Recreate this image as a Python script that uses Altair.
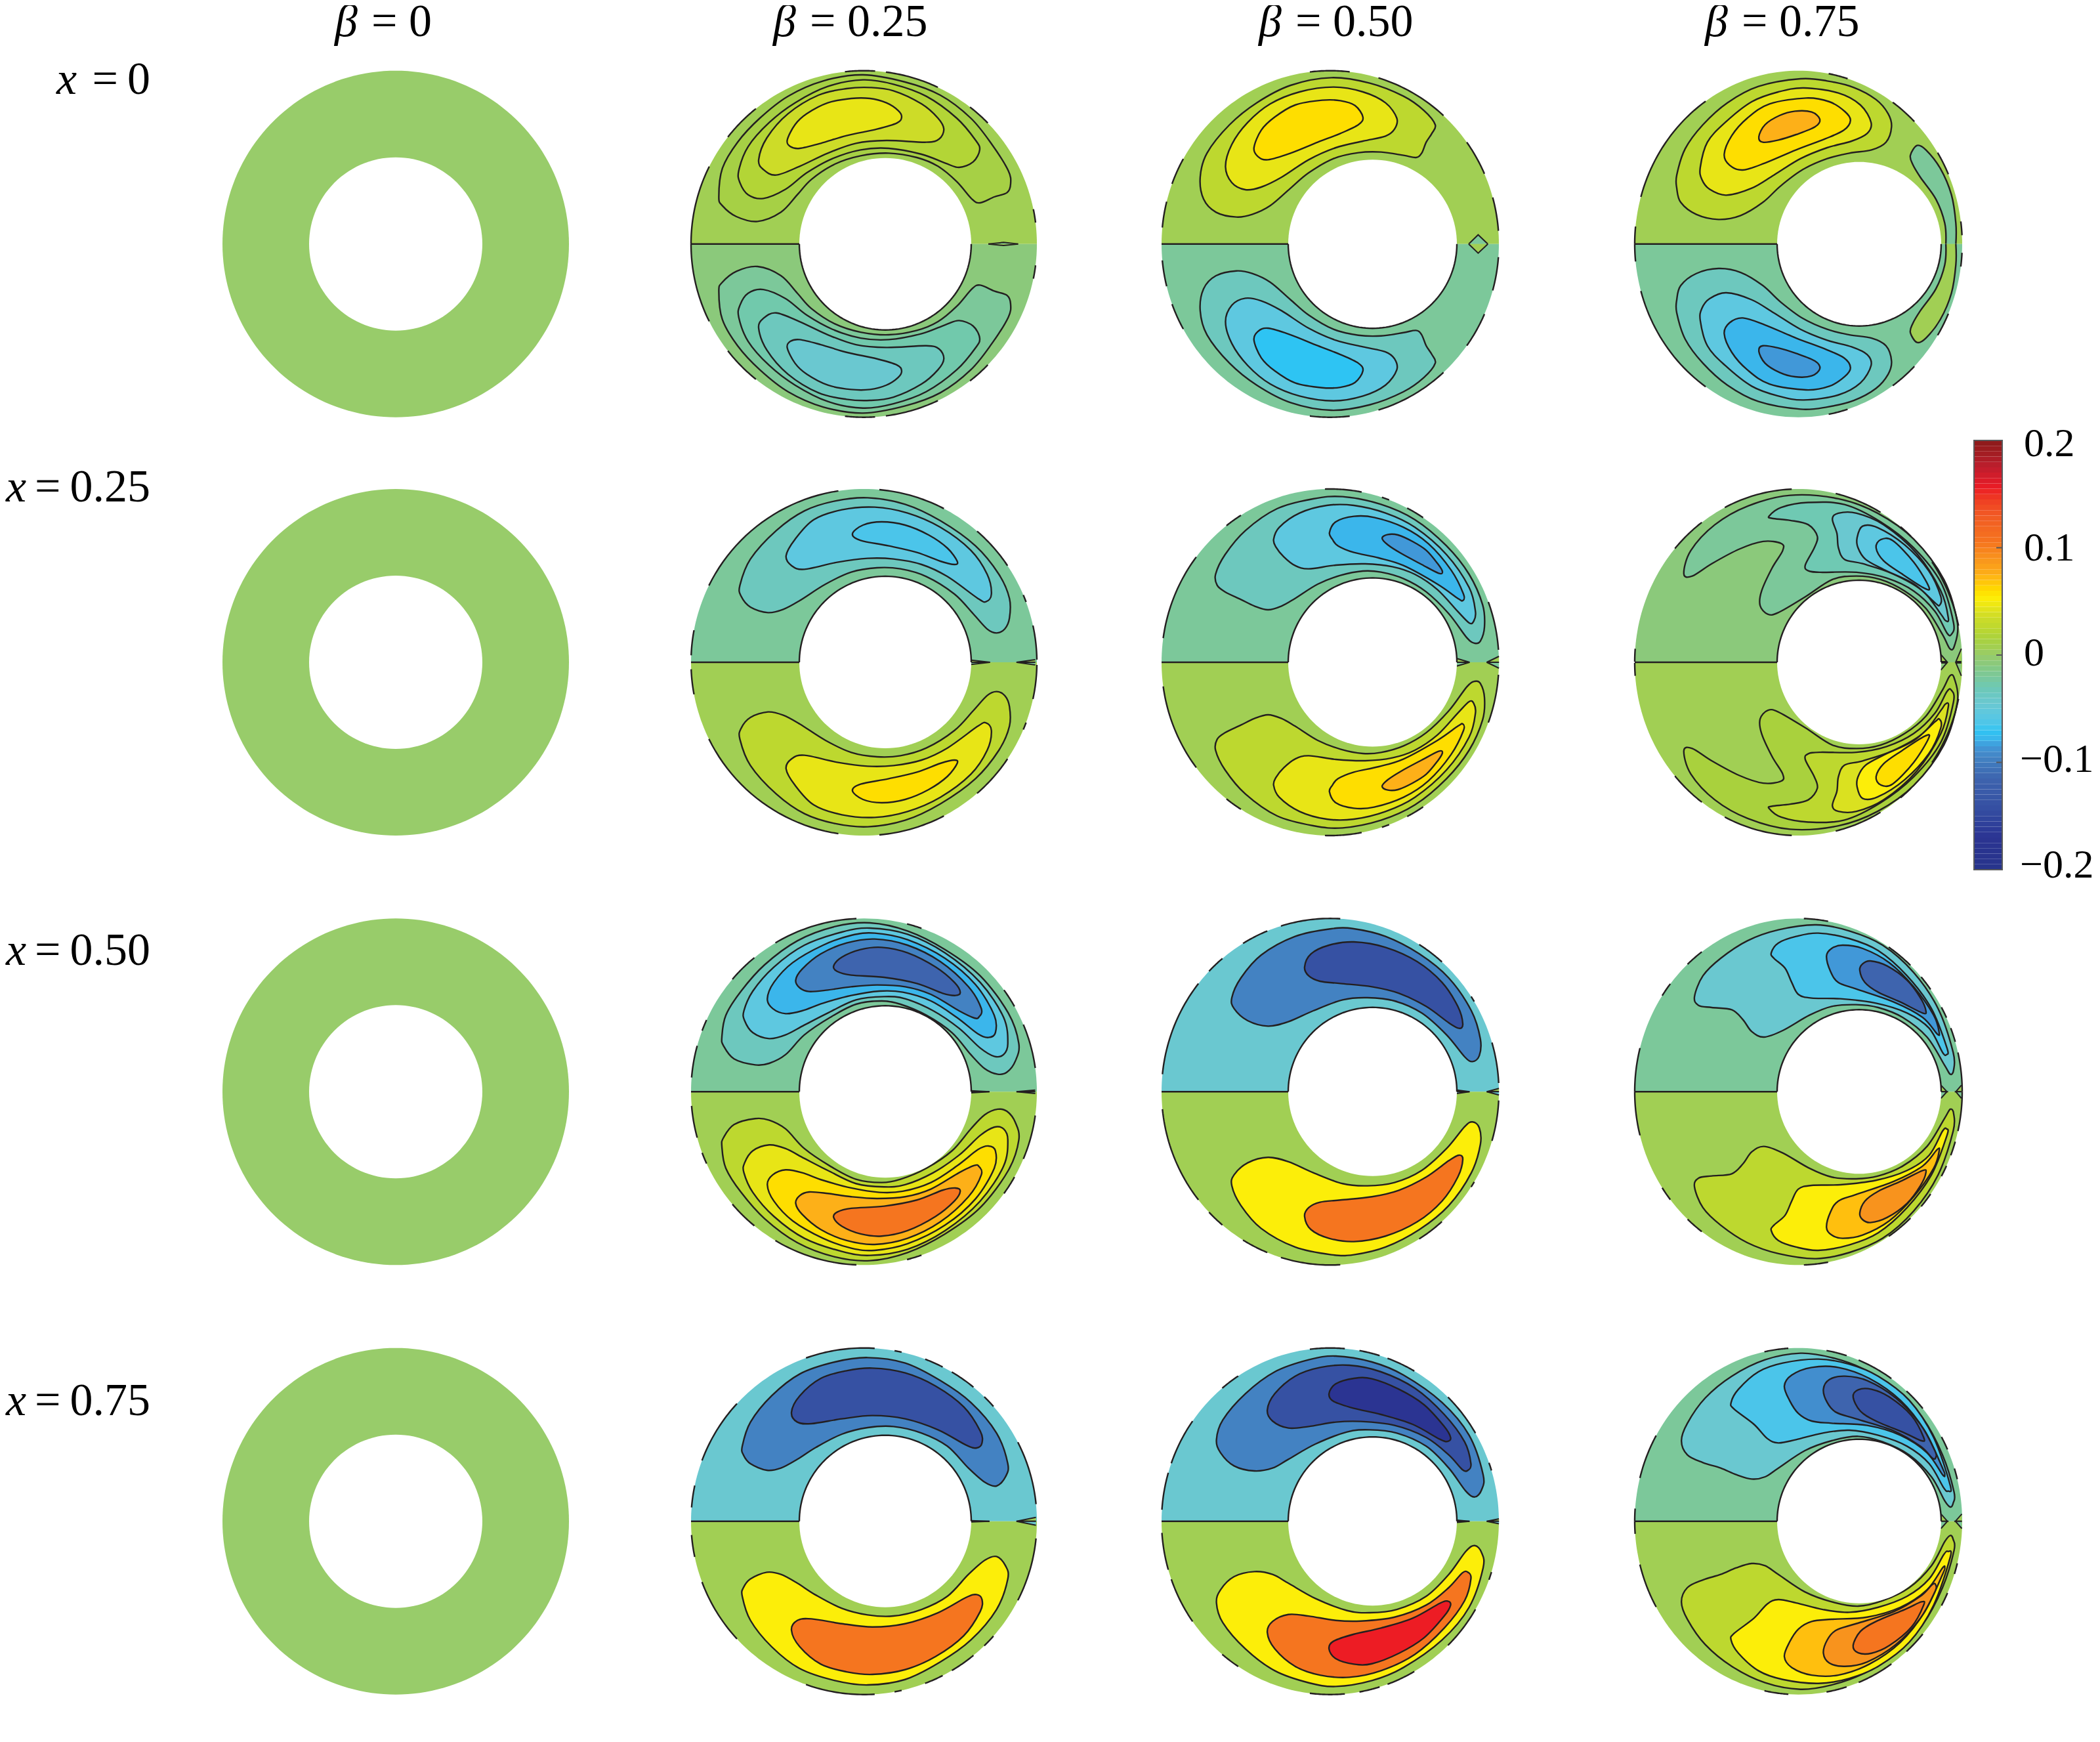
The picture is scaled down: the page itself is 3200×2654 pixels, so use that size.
import math
import altair as alt
import pandas as pd

alt.data_transformers.disable_max_rows()

# ---- colour bar: value -> colour
BAR_VALUES = [-0.2, -0.17, -0.14, -0.115, -0.096, -0.085, -0.078, -0.07, -0.065, -0.055, -0.045, -0.035, -0.02, -0.008,
              0, 0.006, 0.015, 0.025, 0.035, 0.045, 0.052, 0.06, 0.075, 0.09, 0.105, 0.13, 0.155, 0.175, 0.2]
BAR_COLORS = ["#27348B", "#2B3492", "#3651A3", "#3E64AE", "#4382C2", "#4198D8", "#3BB6EB", "#2EC4F3", "#4BC5EA", "#5EC8E0",
              "#6AC8D0", "#6DC8BE", "#7CC89A", "#8BC97B", "#98CC6A", "#A1CF54", "#A9D13D", "#BDD82F", "#CDDC28", "#E8E516",
              "#FCEE09", "#FEDE00", "#FDB018", "#F8931D", "#F5751F", "#F15A24", "#ED1C24", "#BE1E2D", "#8B1A1A"]
BAR_TICKS = [0.1, 0, -0.1]
BAR_LABELS = ["0.2", "0.1", "0", "\u22120.1", "\u22120.2"]
BAR_LABEL_AT = [0.197, 0.1, 0.002, -0.097, -0.196]
BAR_LABEL_LEFT = [3084, 3084, 3084, 3078, 3078]

BETA_TEXT = ["= 0", "= 0.25", "= 0.50", "= 0.75"]
BETA_LEFT = [510, 1178, 1918, 2598]
ROW_TEXT = ["=\u20090", "=\u20090.25", "=\u20090.50", "=\u20090.75"]
ROW_X_LEFT = [86, 9, 9, 9]
ROW_TEXT_Y = [122, 743, 1449, 2135]

# ---- geometry of the annuli
ROW_AXIS = [371.7, 1009, 1663.3, 2317.7]
ROW_CROP_Y = [100, 735, 1390, 2040]
# centre x, rx, ry, inner centre x, inner r, crop x, x factor
COL_GEOM = [(603, 264, 264, 603, 132, 0, 1),
            (1316.5, 263.5, 264, 1349, 131, 1040, 2.8),
            (2027, 257, 264, 2091.5, 128.5, 1760, 2.904),
            (2740.5, 249.5, 264, 2833, 125, 2480, 2.958)]

# ---- contours of the upper half: (upper value, mirrored lower value, points)
R1C2 = [
 (0.012, -0.02, [(155,600),(170,470),(235,350),(330,240),(450,140),(600,70),(770,42),(950,75),(1100,135),(1230,240),(1320,360),(1390,480),(1400,540),(1385,580),(1330,600),(1270,627),(1235,610),(1170,530),(1090,460),(1000,420),(880,400),(760,412),(650,450),(550,520),(490,590),(420,670),(320,712),(230,690),(170,640)]),
 (0.02, -0.027, [(240,480),(280,370),(370,260),(480,170),(620,95),(770,65),(900,85),(1040,140),(1170,240),(1250,340),(1268,385),(1240,440),(1180,465),(1120,445),(1020,405),(880,378),(760,385),(640,425),(530,490),(440,565),(345,607),(280,590),(245,535)]),
 (0.035, -0.035, [(325,430),(360,330),(450,220),(580,135),(700,105),(800,100),(900,115),(1020,175),(1090,240),(1115,290),(1095,335),(1040,350),(870,342),(740,355),(620,400),(500,460),(400,500),(345,475)]),
 (0.045, -0.045, [(447,340),(480,270),(530,220),(620,170),(720,150),(800,150),(870,170),(920,205),(935,235),(915,262),(830,290),(700,320),(590,355),(500,378),(460,370)]),
]
R1C3 = [
 (0.025, -0.035, [(200,510),(230,400),(330,270),(450,170),(600,90),(780,55),(950,80),(1100,140),(1190,205),(1240,270),(1225,310),(1200,350),(1180,400),(1155,420),(1100,410),(1000,395),(900,398),(790,425),(680,490),(600,560),(510,640),(430,680),(360,692),(270,670),(215,610)]),
 (0.045, -0.055, [(312,460),(340,360),(410,260),(510,175),(640,120),(790,98),(920,120),(1020,170),(1070,240),(1060,290),(1020,322),(920,345),(800,375),(680,430),(560,510),(470,555),(400,567),(340,535)]),
 (0.06, -0.07, [(438,375),(470,295),(530,235),(620,180),(740,158),(820,160),(885,182),(920,235),(900,270),(820,310),(720,350),(600,400),(500,430),(455,415)]),
]
R1C4 = [
 (0.025, -0.035, [(222,500),(260,380),(340,270),(450,170),(590,95),(780,60),(900,70),(1020,100),(1120,155),(1175,220),(1190,280),(1165,350),(1100,385),(1000,400),(900,425),(790,475),(690,550),(610,625),(510,685),(410,703),(310,680),(240,625),(222,560)]),
 (0.045, -0.055, [(328,465),(360,350),(440,260),(560,165),(680,120),(795,102),(950,125),(1050,180),(1098,260),(1080,310),(1010,345),(900,375),(780,425),(660,500),(560,560),(445,592),(370,565),(335,520)]),
 (0.06, -0.078, [(436,405),(470,320),(540,240),(640,175),(805,148),(910,165),(980,210),(1005,250),(975,295),(890,335),(760,385),(620,445),(520,477),(460,455)]),
 (0.075, -0.085, [(592,325),(620,270),(685,228),(755,208),(830,212),(867,245),(845,280),(760,315),(680,340),(610,350)]),
]
# a strip that runs into the axis: drawn as an open curve, so the axis stays unstroked
R1C4_STRIP = (-0.02, 0.006, [(1480,815),(1480,720),(1460,590),(1410,470),(1345,385),(1305,365),(1275,410),(1285,450),(1320,510),(1390,610),(1430,720),(1435,815)])
R2C2 = [
 (-0.035, 0.025, [(245,470),(290,350),(400,220),(520,130),(650,85),(790,70),(950,100),(1100,175),(1250,290),(1350,420),(1395,530),(1395,620),(1375,670),(1340,688),(1300,670),(1240,600),(1160,510),(1040,430),(930,395),(830,390),(720,410),(610,465),(500,540),(430,580),(365,595),(290,570),(250,520)]),
 (-0.055, 0.045, [(442,335),(480,260),(560,170),(680,125),(820,113),(960,140),(1100,205),(1230,310),(1300,420),(1318,510),(1295,545),(1260,530),(1130,430),(1020,375),(900,350),(790,347),(660,365),(520,397),(465,380)]),
 (-0.065, 0.06, [(725,235),(770,195),(850,180),(950,195),(1050,240),(1130,300),(1172,360),(1160,375),(1100,360),(1000,320),(880,290),(760,265)]),
]
R2C3 = [
 (-0.035, 0.025, [(268,420),(310,330),(400,220),(540,120),(700,75),(830,65),(1000,100),(1150,170),(1290,290),(1390,420),(1450,560),(1458,660),(1440,725),(1415,735),(1380,710),(1300,600),(1200,500),(1100,440),(1000,410),(920,405),(820,425),(720,465),(620,530),(560,565),(500,582),(440,565),(380,535),(310,500),(275,470)]),
 (-0.055, 0.045, [(525,260),(550,205),(640,140),(760,105),(880,105),(1020,140),(1150,205),(1290,330),(1390,480),(1418,590),(1410,635),(1390,642),(1340,590),(1250,490),(1150,420),(1050,385),(930,372),(800,378),(680,395),(620,380),(570,340),(535,295)]),
 (-0.078, 0.06, [(772,230),(800,180),(880,155),(970,160),(1100,205),(1210,280),(1310,400),(1365,510),(1362,540),(1340,530),(1250,465),(1100,380),(990,345),(880,320),(810,290),(785,260)]),
 (-0.085, 0.075, [(1005,255),(1030,238),(1075,240),(1140,270),(1200,310),(1250,370),(1272,408),(1255,415),(1180,375),(1090,325),(1030,285)]),
]
R2C4 = [
 (-0.02, 0.015, [(187,510),(210,430),(290,340),(400,275),(540,238),(700,250),(830,300),(950,390),(1050,530),(1095,680),(1085,760),(1070,770),(1045,720),(990,630),(920,570),(840,530),(760,518),(680,530),(590,590),(500,645),(465,650),(440,620),(445,570),(480,490),(515,430),(510,405),(450,398),(370,425),(280,475),(215,518)]),
 (-0.03, 0.025, [(470,310),(510,280),(600,263),(720,270),(840,330),(950,420),(1040,540),(1082,680),(1075,720),(1060,715),(1020,640),(950,570),(860,525),(760,505),(640,505),(600,500),(590,480),(620,420),(630,380),(600,340),(540,325),(480,318)]),
 (-0.045, 0.04, [(680,320),(700,300),(760,300),(850,340),(960,440),(1040,570),(1065,665),(1055,672),(1040,650),(980,570),(880,510),(780,475),(720,460),(700,420),(695,370)]),
 (-0.055, 0.052, [(762,385),(780,345),(830,350),(920,410),(1000,500),(1040,590),(1035,620),(1020,610),(950,545),(850,495),(790,460),(765,420)]),
 (-0.065, 0.06, [(825,420),(840,392),(880,395),(950,470),(1000,555),(985,560),(910,510),(850,465)]),
]
R3C2 = [
 (-0.035, 0.025, [(168,570),(185,470),(250,360),(350,240),(490,130),(650,65),(800,48),(960,85),(1120,170),(1270,290),(1390,460),(1435,600),(1420,680),(1385,730),(1345,740),(1290,715),(1230,650),(1150,550),(1040,470),(930,420),(850,405),(740,420),(630,480),(520,560),(440,650),(370,690),(310,697),(220,670),(175,610)]),
 (-0.055, 0.045, [(262,450),(300,360),(390,250),(520,150),(680,90),(800,72),(960,100),(1120,185),(1270,320),(1370,480),(1388,600),(1370,650),(1330,658),(1270,620),(1180,530),(1070,450),(950,395),(860,385),(740,400),(620,460),(520,515),(440,560),(370,577),(300,550),(265,495)]),
 (-0.078, 0.06, [(362,395),(390,320),(470,230),(600,150),(720,105),(820,95),(960,125),(1120,210),(1250,330),(1330,470),(1335,550),(1305,572),(1260,555),(1170,480),(1060,405),(940,365),(840,360),(720,380),(600,415),(510,450),(440,463),(385,440)]),
 (-0.096, 0.075, [(483,310),(510,260),(590,190),(700,140),(820,122),(960,150),(1100,225),(1220,340),(1275,440),(1265,478),(1245,483),(1180,450),(1060,375),(950,340),(830,332),(720,340),(620,355),(540,362),(500,345)]),
 (-0.115, 0.105, [(645,245),(680,205),(760,170),(850,160),(960,185),(1080,250),(1160,320),(1185,365),(1165,380),(1110,370),(1000,325),(860,297),(720,287),(660,270)]),
]
R3C3 = [
 (-0.096, 0.052, [(340,390),(380,300),(470,195),(620,110),(780,75),(880,75),(1020,110),(1170,190),(1300,300),(1400,450),(1440,580),(1435,655),(1405,682),(1370,660),(1290,560),(1180,460),(1060,405),(940,390),(830,400),(700,450),(590,500),(500,520),(410,495),(350,440)]),
 (-0.14, 0.105, [(662,250),(690,190),(770,150),(880,135),(1020,160),(1160,225),(1270,320),(1340,430),(1362,510),(1345,530),(1300,505),(1200,430),(1080,370),(960,340),(820,325),(730,315),(680,290)]),
]
R3C4 = [
 (-0.045, 0.025, [(302,385),(340,290),(420,210),(540,130),(680,80),(850,57),(1000,85),(1150,150),(1290,275),(1400,440),(1468,640),(1470,720),(1455,740),(1430,700),(1350,570),(1240,480),(1130,435),(1030,422),(920,430),(820,470),(700,540),(615,570),(560,545),(520,490),(470,445),(380,435),(320,425)]),
 (-0.065, 0.052, [(648,185),(680,140),(760,110),(860,95),(1000,120),(1130,175),(1260,290),(1370,440),(1440,620),(1438,650),(1420,640),(1360,530),(1260,460),(1120,415),(960,395),(830,392),(770,375),(740,320),(710,255),(660,210)]),
 (-0.085, 0.07, [(897,200),(920,165),(970,150),(1060,165),(1180,230),(1290,340),(1380,470),(1405,550),(1395,555),(1330,480),(1200,410),(1030,350),(950,320),(915,270)]),
 (-0.115, 0.09, [(1047,265),(1060,235),(1095,222),(1170,245),(1260,310),(1320,390),(1345,450),(1330,460),(1230,410),(1130,365),(1070,320)]),
]
R4C2 = [
 (-0.096, 0.052, [(255,490),(290,380),(380,260),(500,160),(650,105),(790,85),(950,110),(1100,190),(1230,290),(1340,430),(1388,570),(1378,630),(1340,672),(1290,655),(1220,590),(1130,490),(1020,430),(900,400),(790,405),(680,435),(570,495),(490,550),(420,590),(360,600),(290,570),(260,530)]),
 (-0.14, 0.105, [(465,335),(500,260),(590,180),(700,145),(810,133),(950,155),(1080,215),(1200,310),(1270,420),(1278,475),(1255,498),(1210,485),(1090,415),(950,365),(810,350),(680,365),(550,387),(490,380)]),
]
R4C3 = [
 (-0.096, 0.052, [(272,460),(300,370),(400,250),(530,150),(680,95),(800,78),(960,105),(1100,165),(1270,290),(1390,440),(1452,620),(1445,690),(1415,722),(1375,695),(1300,590),(1200,490),(1070,430),(950,415),(850,425),(710,480),(590,550),(520,590),(440,603),(350,580),(290,520)]),
 (-0.14, 0.105, [(497,325),(530,250),(620,170),(730,130),(860,120),(1000,150),(1150,225),(1280,345),(1370,470),(1398,570),(1385,600),(1360,597),(1300,530),(1200,450),(1060,395),(910,377),(800,380),(680,400),(590,407),(520,375)]),
 (-0.17, 0.155, [(770,250),(800,205),(880,180),(960,182),(1080,230),(1190,300),(1280,400),(1308,450),(1295,468),(1260,458),(1140,390),(1000,345),(880,317),(790,285)]),
]
R4C4 = [
 (-0.045, 0.025, [(243,465),(270,385),(350,270),(470,170),(620,95),(780,65),(920,85),(1060,135),(1200,220),(1330,360),(1420,530),(1472,700),(1468,750),(1455,768),(1430,740),(1370,630),(1270,530),(1150,470),(1040,445),(920,465),(800,510),(680,590),(620,630),(560,640),(490,620),(420,590),(340,565),(270,530)]),
 (-0.065, 0.052, [(467,290),(500,230),(590,150),(700,110),(860,92),(1000,115),(1130,170),(1270,280),(1380,450),(1455,670),(1445,695),(1425,680),(1360,570),(1260,490),(1130,440),(1000,417),(880,430),(760,460),(680,475),(630,455),(570,390),(480,320)]),
 (-0.09, 0.07, [(707,215),(740,165),(830,130),(950,130),(1090,180),(1230,280),(1340,420),(1420,590),(1430,620),(1420,620),(1350,520),(1230,440),(1080,395),(920,385),(830,375),(770,340),(730,280)]),
 (-0.115, 0.09, [(883,230),(910,185),(980,170),(1080,190),(1210,270),(1320,390),(1385,510),(1390,540),(1375,545),(1320,490),(1200,420),(1030,365),(940,335),(900,290)]),
 (-0.14, 0.105, [(1017,265),(1040,232),(1100,230),(1180,265),(1280,350),(1335,450),(1325,465),(1250,430),(1120,375),(1050,330)]),
]

# ---- background value of each half (upper, lower)
HALF_VALUES = {(0,1):(0.006,-0.008),(0,2):(0.006,-0.02),(0,3):(0.006,-0.02),
               (1,1):(-0.02,0.006),(1,2):(-0.02,0.006),(1,3):(-0.008,0.006),
               (2,1):(-0.02,0.006),(2,2):(-0.045,0.006),(2,3):(-0.02,0.006),
               (3,1):(-0.045,0.006),(3,2):(-0.045,0.006),(3,3):(-0.02,0.006)}

# ---- small wedges on the axis at the right side of the gap (zoom coords)
WEDGES = {
 (0,1):[[(1305,815),(1370,808),(1432,815)]],
 (0,2):[[(1388,815),(1430,773),(1473,815)]],
 (0,3):[],
 (1,1):[[(1232,812),(1312,824),(1232,824)],[(1505,810),(1425,824),(1505,824)]],
 (1,2):[[(1336,805),(1392,822),(1336,822)],[(1522,795),(1468,822),(1522,822)]],
 (1,3):[[(1040,790),(1060,815),(1040,815)],[(1108,770),(1090,815),(1108,815)]],
 (2,1):[[(1230,815),(1310,822),(1230,822)],[(1505,812),(1425,822),(1505,822)]],
 (2,2):[[(1336,812),(1392,820),(1336,820)],[(1522,805),(1468,820),(1522,820)]],
 (2,3):[[(1413,790),(1440,820),(1413,820)],[(1505,790),(1480,820),(1505,820)]],
 (3,1):[[(1230,830),(1310,833),(1230,833)],[(1508,815),(1425,833),(1508,833)]],
 (3,2):[[(1336,828),(1392,833),(1336,833)],[(1522,822),(1468,833),(1522,833)]],
 (3,3):[[(1413,800),(1442,833),(1413,833)],[(1507,800),(1478,833),(1507,833)]],
}

# ---- black dashes on the outer edge (start, end in zoom coords)
DASHES = {
 (0,1):[((693,25),(822,22)),((868,28),(1090,98)),((1225,192),(1302,263)),((1490,658),(1502,718)),((192,325),(312,195)),((115,462),(36,815))],
 (0,2):[((685,27),(862,24)),((990,52),(1282,222)),((1384,347),(1463,492)),((1497,602),(1520,755)),((128,428),(75,540)),((52,622),(33,740))],
 (0,3):[((908,30),(995,50)),((1205,153),(1305,243)),((1410,390),(1456,492)),((1503,712),(1507,775)),((355,167),(60,600)),((33,735),(33,815))],
 (1,1):[((840,32),(1115,120)),((1255,225),(1385,382)),((1448,517),(1462,548)),((1490,655),(1505,810)),((665,38),(110,470)),((47,675),(36,790))],
 (1,2):[((752,30),(915,42)),((1005,65),(1038,75)),((1118,113),(1190,155)),((1478,545),(1520,765)),((382,153),(318,200)),((185,343),(37,712))],
 (1,3):[((545,215),(325,285)),((250,337),(160,425)),((692,227),(845,287)),((915,335),(950,370)),((1020,462),(1100,690)),((23,770),(23,815))],
 (2,1):[((742,28),(395,137)),((958,53),(1020,72)),((305,205),(212,305)),((103,492),(82,540)),((62,610),(38,755)),((1368,358),(1413,432)),((1450,515),(1500,712))],
 (2,2):[((820,27),(558,65)),((498,88),(390,143)),((300,213),(240,270)),((195,328),(33,740)),((1172,142),(1275,220)),((1403,382),(1417,405)),((1492,595),(1520,780))],
 (2,3):[((795,27),(905,37)),((1185,147),(1288,228)),((1337,283),(1382,340)),((1425,428),(1450,475)),((1467,525),(1483,590)),((1490,640),(1507,820)),((338,185),(275,242)),((197,330),(158,382)),((55,620),(33,820))],
 (3,1):[((820,42),(527,87)),((905,52),(935,60)),((1035,93),(1110,128)),((1148,153),(1240,222)),((1285,267),(1325,310)),((232,295),(82,555)),((52,670),(38,770)),((1425,475),(1505,755))],
 (3,2):[((840,43),(685,45)),((905,52),(995,72)),((1030,85),(1150,142)),((1300,262),(1422,428)),((1480,565),(1492,600)),((370,172),(300,228)),((170,378),(72,568)),((60,612),(28,780))],
 (3,3):[((618,62),(725,43)),((898,47),(990,68)),((1045,88),(1198,168)),((1268,225),(1345,305)),((1425,442),(1453,500)),((1480,590),(1490,640)),((132,443),(55,635)),((30,775),(35,833))],
}

PANELS = {(0,1):R1C2,(0,2):R1C3,(0,3):R1C4,(1,1):R2C2,(1,2):R2C3,(1,3):R2C4,
          (2,1):R3C2,(2,2):R3C3,(2,3):R3C4,(3,1):R4C2,(3,2):R4C3,(3,3):R4C4}
BLANK_VALUE = 0

bg_rows, contour_rows, open_rows, wedge_rows, hole_rows, line_rows = [], [], [], [], [], []
sid = 0


def emit(rows, pts, value=None):
    global sid
    sid += 1
    for n, (x, y) in enumerate(pts):
        rows.append({"id": sid, "n": n, "x": x, "y": y, "v": value})


def to_ref(key, p):
    r, c = key
    cx, rx, ry, icx, ir, cropx, fx = COL_GEOM[c]
    if key == (1, 3):
        return (2480 + p[0] / 2.178, 650 + p[1] * (ROW_AXIS[1] - 650) / 817)
    return (cropx + p[0] / fx, min(ROW_CROP_Y[r] + p[1] / 3, ROW_AXIS[r]))


def arc(cx, cy, rx, ry, a0, a1, steps):
    return [(cx + rx * math.cos(a0 + (a1 - a0) * i / steps), cy - ry * math.sin(a0 + (a1 - a0) * i / steps)) for i in range(steps + 1)]


for r in range(4):
    axis = ROW_AXIS[r]
    cx, rx, ry, icx, ir, *_ = COL_GEOM[0]
    emit(bg_rows, arc(cx, axis, rx, ry, 0, 2 * math.pi, 180), BLANK_VALUE)
    emit(hole_rows, arc(icx, axis, ir, ir, 0, 2 * math.pi, 120), None)

for key, contours in PANELS.items():
    r, c = key
    axis = ROW_AXIS[r]
    cx, rx, ry, icx, ir, *_ = COL_GEOM[c]
    top_v, bot_v = HALF_VALUES[key]
    emit(bg_rows, arc(cx, axis, rx, ry, 0, math.pi, 120), top_v)
    emit(bg_rows, arc(cx, axis, rx, ry, math.pi, 2 * math.pi, 120), bot_v)
    for vt, vb, pts in contours:
        ref = [to_ref(key, p) for p in pts]
        emit(contour_rows, ref, vt)
        emit(contour_rows, [(x, 2 * axis - y) for x, y in ref], vb)
    if key == (0, 3):
        vt, vb, pts = R1C4_STRIP
        ref = [to_ref(key, p) for p in pts]
        emit(open_rows, ref, vt)
        emit(open_rows, [(x, 2 * axis - y) for x, y in ref], vb)
    for pts in WEDGES[key]:
        ref = [to_ref(key, p) for p in pts]
        emit(wedge_rows, ref, bot_v if key not in ((0, 1), (0, 2)) else -0.02)
        emit(wedge_rows, [(x, 2 * axis - y) for x, y in ref], top_v)
    emit(hole_rows, arc(icx, axis, ir, ir, 0, 2 * math.pi, 120), None)
    # edge of the gap on the negative half and the axis line
    if top_v < 0:
        emit(line_rows, arc(icx, axis, ir, ir, 0, math.pi, 80))
    else:
        emit(line_rows, arc(icx, axis, ir, ir, math.pi, 2 * math.pi, 80))
    emit(line_rows, [(cx - rx, axis), (icx - ir, axis)])
    for a, b in DASHES[key]:
        pa, pb = to_ref(key, a), to_ref(key, b)
        aa = math.atan2((axis - pa[1]) / ry, (pa[0] - cx) / rx)
        ab = math.atan2((axis - pb[1]) / ry, (pb[0] - cx) / rx)
        seg = arc(cx, axis, rx, ry, aa, ab, 24)
        emit(line_rows, seg)
        emit(line_rows, [(x, 2 * axis - y) for x, y in seg])

W, H = 3184, 2638
X = alt.X("x:Q", scale=alt.Scale(domain=[8, 8 + W]), axis=None)
Y = alt.Y("y:Q", scale=alt.Scale(domain=[8 + H, 8]), axis=None)
FILL = alt.Fill("v:Q", scale=alt.Scale(domain=BAR_VALUES, range=BAR_COLORS), legend=None)
INK = "#231F20"


def shapes(rows, **mark):
    return alt.Chart(pd.DataFrame(rows)).mark_line(**mark).encode(x=X, y=Y, detail="id:N", order="n:Q")


bg = shapes(bg_rows, strokeWidth=0, opacity=1).encode(fill=FILL)
cont = shapes(contour_rows, interpolate="cardinal-closed", stroke=INK, strokeWidth=2.4).encode(fill=FILL)
strip = shapes(open_rows, interpolate="cardinal", stroke=INK, strokeWidth=2.4).encode(fill=FILL)
wedge = shapes(wedge_rows, stroke=INK, strokeWidth=2.0).encode(fill=FILL)
hole = shapes(hole_rows, strokeWidth=0, fill="white")
lines = shapes(line_rows, stroke=INK, strokeWidth=2.4)

# colour bar
cells = [-0.2 + 0.005 * i for i in range(80)]
bar_df = pd.DataFrame({"lo": cells, "hi": [c + 0.005 for c in cells], "v": [c + 0.0025 for c in cells], "x": 3008, "x2": 3051})
BAR_Y = alt.Scale(domain=[-0.2, 0.2], range=[1325 - 8, 671 - 8])
bar = alt.Chart(bar_df).mark_rect().encode(x=X, x2="x2:Q", y=alt.Y("lo:Q", scale=BAR_Y, axis=None), y2="hi:Q", fill=FILL)
frame = alt.Chart(pd.DataFrame({"x": [3008], "x2": [3051], "lo": [-0.2], "hi": [0.2]})).mark_rect(fill=None, stroke="#58595B", strokeWidth=2).encode(
    x=X, x2="x2:Q", y=alt.Y("lo:Q", scale=BAR_Y, axis=None), y2="hi:Q")
ticks = alt.Chart(pd.DataFrame({"x": [3042] * 3, "x2": [3051] * 3, "t": BAR_TICKS})).mark_rule(stroke="#58595B", strokeWidth=2).encode(
    x=X, x2="x2:Q", y=alt.Y("t:Q", scale=BAR_Y, axis=None))
FONT = "Liberation Serif"
SIZE = 70
bar_text = alt.Chart(pd.DataFrame({"x": BAR_LABEL_LEFT, "t": BAR_LABEL_AT, "s": BAR_LABELS})).mark_text(
    align="left", baseline="middle", font=FONT, fontSize=62, color="black").encode(
    x=X, y=alt.Y("t:Q", scale=BAR_Y, axis=None), text="s:N")

# headings
title_y = 34
beta_i = alt.Chart(pd.DataFrame({"x": BETA_LEFT, "y": [title_y] * 4, "s": ["\u03b2"] * 4})).mark_text(
    align="left", baseline="middle", font=FONT, fontSize=SIZE, fontStyle="italic", color="black").encode(x=X, y=Y, text="s:N")
beta_r = alt.Chart(pd.DataFrame({"x": [b + 56 for b in BETA_LEFT], "y": [title_y] * 4, "s": BETA_TEXT})).mark_text(
    align="left", baseline="middle", font=FONT, fontSize=SIZE, color="black").encode(x=X, y=Y, text="s:N")
row_i = alt.Chart(pd.DataFrame({"x": ROW_X_LEFT, "y": ROW_TEXT_Y, "s": ["x"] * 4})).mark_text(
    align="left", baseline="middle", font=FONT, fontSize=SIZE, fontStyle="italic", color="black").encode(x=X, y=Y, text="s:N")
row_r = alt.Chart(pd.DataFrame({"x": [229] * 4, "y": ROW_TEXT_Y, "s": ROW_TEXT})).mark_text(
    align="right", baseline="middle", font=FONT, fontSize=SIZE, color="black").encode(x=X, y=Y, text="s:N")

chart = alt.layer(bg, cont, strip, wedge, hole, lines, bar, frame, ticks, bar_text, beta_i, beta_r, row_i, row_r).resolve_scale(
    y="independent"
).properties(width=W, height=H, padding=0, background="white", autosize=alt.AutoSizeParams(type="none")).configure_view(stroke=None)

chart.save("out.html", embed_options={"renderer": "svg", "actions": False})
